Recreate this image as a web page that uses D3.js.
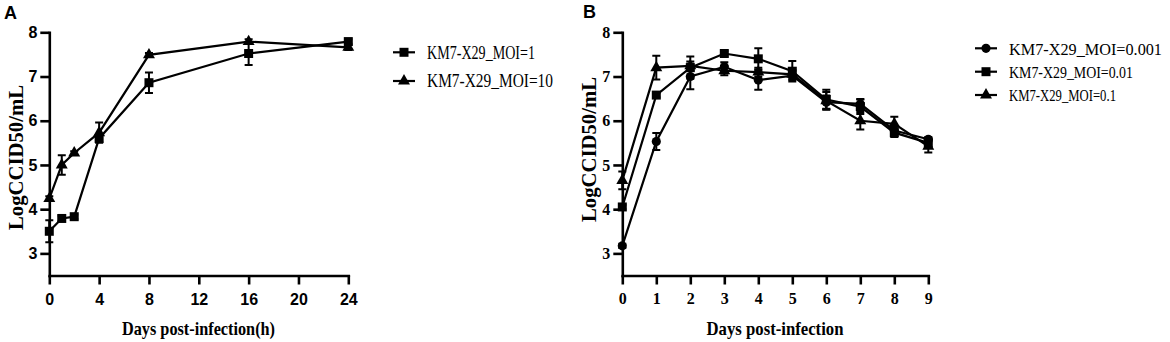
<!DOCTYPE html>
<html>
<head>
<meta charset="utf-8">
<script src="https://cdn.jsdelivr.net/npm/d3@7"></script>
<style>
  body { margin: 0; background: #fff; }
</style>
</head>
<body>
<svg id="chart"></svg>
<script>
// panel A data (hours post infection)
const hoursA = [0, 1, 2, 4, 8, 16, 24];
const moi1 = [3.5, 3.79, 3.83, 5.6, 6.86, 7.52, 7.79];
const moi1Err = [0.25, 0.06, 0.05, 0.08, 0.23, 0.26, 0.05];
const moi10 = [4.24, 5.0, 5.27, 5.73, 7.49, 7.79, 7.66];
const moi10Err = [0.05, 0.22, 0.04, 0.23, 0.04, 0.05, 0.06];
const xTicksA = [0, 4, 8, 12, 16, 20, 24];

// panel B data (days post infection)
const daysB = [0, 1, 2, 3, 4, 5, 6, 7, 8, 9];
const moi0001 = [3.17, 5.53, 7.0, 7.22, 6.92, 7.02, 6.42, 6.38, 5.78, 5.58];
const moi0001Err = [0.05, 0.19, 0.29, 0.1, 0.22, 0.1, 0.15, 0.1, 0.1, 0.05];
const moi001 = [4.05, 6.58, 7.2, 7.52, 7.4, 7.12, 6.48, 6.32, 5.73, 5.5];
const moi001Err = [0.05, 0.05, 0.25, 0.06, 0.24, 0.23, 0.22, 0.17, 0.1, 0.1];
const moi01 = [4.65, 7.2, 7.24, 7.13, 7.1, 7.05, 6.45, 6.0, 5.93, 5.42];
const moi01Err = [0.2, 0.27, 0.1, 0.1, 0.1, 0.1, 0.2, 0.2, 0.16, 0.14];
const xTicksB = [0, 1, 2, 3, 4, 5, 6, 7, 8, 9];

const yTicks = [3, 4, 5, 6, 7, 8];

const serif = '"Liberation Serif", "Times New Roman", serif';
const sans = '"Liberation Sans", Arial, sans-serif';

const svg = d3.select('#chart')
  .attr('width', 1170)
  .attr('height', 342);

const shapes = {
  circle: d3.symbol(d3.symbolCircle, 66)(),
  square: d3.symbol(d3.symbolSquare, 81)(),
  triangle: d3.symbol(d3.symbolTriangle, 62)()
};

function drawPanel(p) {
  const x = d3.scaleLinear().domain(p.xDomain).range(p.xRange);
  const y = d3.scaleLinear().domain([2.5, 8]).range([275.5, 32.3]);
  const g = svg.append('g');

  // axes
  const yAxis = d3.axisLeft(y).tickValues(yTicks).tickFormat(d3.format('d'))
    .tickSizeInner(9).tickSizeOuter(0).tickPadding(3);
  const xAxis = d3.axisBottom(x).tickValues(p.xTicks).tickFormat(d3.format('d'))
    .tickSizeInner(9).tickSizeOuter(0).tickPadding(p.xPad);

  const ya = g.append('g')
    .attr('transform', `translate(${p.xRange[0]},0)`)
    .call(yAxis);
  const xa = g.append('g')
    .attr('transform', `translate(0,${y(2.5)})`)
    .call(xAxis);

  [ya, xa].forEach(a => {
    a.select('.domain').attr('stroke-width', 2.6).attr('stroke-linecap', 'square');
    a.selectAll('.tick line').attr('stroke-width', 2.6);
    a.selectAll('.tick text')
      .attr('fill', '#000')
      .style('font-family', p.tickFont)
      .style('font-weight', 'bold')
      .style('font-size', '16px');
  });

  // lines, error bars and markers
  p.series.forEach(s => {
    const pts = s.values.map((v, i) => [x(p.xs[i]), y(v)]);
    g.append('path')
      .attr('d', d3.line()(pts))
      .attr('fill', 'none')
      .attr('stroke', '#000')
      .attr('stroke-width', 2.2);

    g.selectAll(null)
      .data(s.values)
      .enter()
      .append('path')
      .attr('d', (v, i) => {
        const cx = x(p.xs[i]);
        const top = y(v + s.err[i]);
        const bot = y(v - s.err[i]);
        return `M${cx - 4},${top}H${cx + 4}M${cx},${top}V${bot}M${cx - 4},${bot}H${cx + 4}`;
      })
      .attr('fill', 'none')
      .attr('stroke', '#000')
      .attr('stroke-width', 2);

    g.selectAll(null)
      .data(pts)
      .enter()
      .append('path')
      .attr('d', shapes[s.shape])
      .attr('transform', d => `translate(${d[0]},${d[1]})`)
      .attr('fill', '#000');
  });

  // legend
  p.series.forEach((s, i) => {
    const ly = p.legend.y[i];
    g.append('line')
      .attr('x1', p.legend.x0).attr('x2', p.legend.x1)
      .attr('y1', ly).attr('y2', ly)
      .attr('stroke', '#000').attr('stroke-width', 2.2);
    g.append('path')
      .attr('d', shapes[s.shape])
      .attr('transform', `translate(${(p.legend.x0 + p.legend.x1) / 2},${ly})`);
    g.append('text')
      .attr('x', p.legend.tx)
      .attr('y', ly + 6.2)
      .attr('textLength', s.width)
      .attr('lengthAdjust', 'spacingAndGlyphs')
      .style('font-family', serif)
      .style('font-size', p.legend.size)
      .text(s.name);
  });

  // axis titles
  g.append('text')
    .attr('x', p.xTitle.x)
    .attr('y', 335)
    .attr('text-anchor', 'middle')
    .attr('textLength', p.xTitle.w)
    .attr('lengthAdjust', 'spacingAndGlyphs')
    .style('font-family', serif)
    .style('font-weight', 'bold')
    .style('font-size', '19px')
    .text(p.xTitle.text);

  g.append('text')
    .attr('transform', `translate(${p.yTitle.x},${p.yTitle.y}) rotate(-90)`)
    .attr('text-anchor', 'middle')
    .attr('textLength', 145)
    .attr('lengthAdjust', 'spacingAndGlyphs')
    .style('font-family', serif)
    .style('font-weight', 'bold')
    .style('font-size', '20px')
    .text('LogCCID50/mL');

  // panel letter
  g.append('text')
    .attr('x', p.letter.x)
    .attr('y', p.letter.y)
    .style('font-family', sans)
    .style('font-weight', 'bold')
    .style('font-size', '18px')
    .text(p.letter.text);
}

drawPanel({
  xs: hoursA,
  xDomain: [0, 24],
  xRange: [49.3, 348.3],
  xTicks: xTicksA,
  xPad: 9,
  tickFont: sans,
  series: [
    { name: 'KM7-X29_MOI=1', values: moi1, err: moi1Err, shape: 'square', width: 108 },
    { name: 'KM7-X29_MOI=10', values: moi10, err: moi10Err, shape: 'triangle', width: 126 }
  ],
  legend: { x0: 393, x1: 415, tx: 427, y: [52.3, 81], size: '19px' },
  xTitle: { x: 198.5, w: 153, text: 'Days post-infection(h)' },
  yTitle: { x: 23, y: 157.5 },
  letter: { x: 4, y: 19.3, text: 'A' }
});

drawPanel({
  xs: daysB,
  xDomain: [0, 9],
  xRange: [622.3, 928.3],
  xTicks: xTicksB,
  xPad: 8,
  tickFont: serif,
  series: [
    { name: 'KM7-X29_MOI=0.001', values: moi0001, err: moi0001Err, shape: 'circle', width: 153 },
    { name: 'KM7-X29_MOI=0.01', values: moi001, err: moi001Err, shape: 'square', width: 124 },
    { name: 'KM7-X29_MOI=0.1', values: moi01, err: moi01Err, shape: 'triangle', width: 107 }
  ],
  legend: { x0: 975, x1: 997, tx: 1009, y: [48.3, 71.7, 95], size: '17px' },
  xTitle: { x: 775, w: 137, text: 'Days post-infection' },
  yTitle: { x: 596, y: 149.5 },
  letter: { x: 583, y: 18.3, text: 'B' }
});
</script>
</body>
</html>
